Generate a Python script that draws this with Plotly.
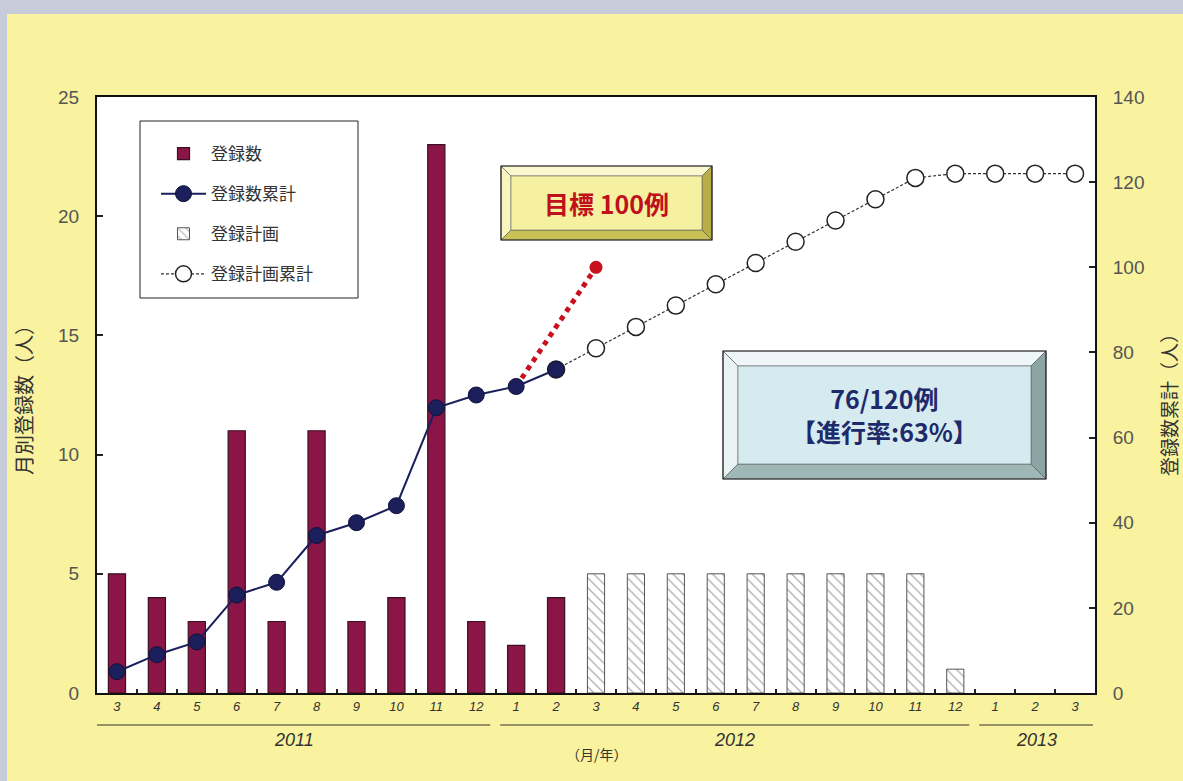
import plotly.graph_objects as go

# ---------------- data ----------------
categories = ["2011/3", "2011/4", "2011/5", "2011/6", "2011/7", "2011/8", "2011/9", "2011/10",
              "2011/11", "2011/12", "2012/1", "2012/2", "2012/3", "2012/4", "2012/5", "2012/6",
              "2012/7", "2012/8", "2012/9", "2012/10", "2012/11", "2012/12", "2013/1", "2013/2", "2013/3"]
month_labels = ["3", "4", "5", "6", "7", "8", "9", "10", "11", "12", "1", "2", "3", "4", "5", "6",
                "7", "8", "9", "10", "11", "12", "1", "2", "3"]

actual_months = categories[0:12]
actual_monthly = [5, 4, 3, 11, 3, 11, 3, 4, 23, 3, 2, 4]
actual_cumulative = [5, 9, 12, 23, 26, 37, 40, 44, 67, 70, 72, 76]

plan_months = categories[12:22]
plan_monthly = [5, 5, 5, 5, 5, 5, 5, 5, 5, 1]

plan_cum_months = categories[11:25]
plan_cumulative = [76, 81, 86, 91, 96, 101, 106, 111, 116, 121, 122, 122, 122, 122]

target_months = ["2012/1", "2012/3"]
target_values = [72, 100]

years = ["2011", "2012", "2013"]
year_spans = [(-0.5, 9.35), (9.6, 21.35), (21.6, 24.45)]

# ---------------- layout geometry (pixels) ----------------
W, H = 1183, 781
L, R, T, B = 97, 88, 97, 88
PW, PH = W - L - R, H - T - B


def px(x):
    return (x - L) / PW


def py(y):
    return (H - B - y) / PH


FONT = "Noto Sans CJK JP"
NUMFONT = "Liberation Sans"
GRAY = "#555555"

fig = go.Figure()

fig.add_trace(go.Bar(
    x=actual_months, y=actual_monthly, name="登録数", width=0.43,
    marker=dict(color="#8C1548", line=dict(color="#3A1022", width=1.2)),
    legendgroup="a", legendrank=1, yaxis="y"))

fig.add_trace(go.Bar(
    x=plan_months, y=plan_monthly, name="登録計画", width=0.43,
    marker=dict(color="white", line=dict(color="#555555", width=1),
                pattern=dict(shape="\\", fgcolor="#666666", bgcolor="white", size=7, solidity=0.2)),
    legendgroup="c", legendrank=3, yaxis="y"))

fig.add_trace(go.Scatter(
    x=plan_cum_months, y=plan_cumulative, name="登録計画累計", mode="lines+markers",
    line=dict(color="#333333", width=1.2, dash="3px,2px"),
    marker=dict(size=17, color="white", line=dict(color="#222222", width=1.5)),
    legendgroup="d", legendrank=4, yaxis="y2"))

fig.add_trace(go.Scatter(
    x=target_months, y=target_values, mode="lines", showlegend=False,
    line=dict(color="#C8101E", width=5, dash="dot"), yaxis="y2"))

fig.add_trace(go.Scatter(
    x=target_months[1:], y=target_values[1:], mode="markers", showlegend=False,
    marker=dict(size=13, color="#C8101E", opacity=1, line=dict(width=0)), yaxis="y2"))

fig.add_trace(go.Scatter(
    x=actual_months, y=actual_cumulative, name="登録数累計", mode="lines+markers",
    line=dict(color="#1B1F5C", width=2),
    marker=dict(size=16, color="#1B1F5C", line=dict(color="#10123A", width=1)),
    legendgroup="b", legendrank=2, yaxis="y2"))

shapes = []
annotations = []

# scanned bluish border at top/left
shapes.append(dict(type="rect", xref="paper", yref="paper", x0=px(0), x1=px(W), y0=py(14), y1=py(0),
                   fillcolor="#C7CCDA", line=dict(width=0), layer="below"))
shapes.append(dict(type="rect", xref="paper", yref="paper", x0=px(0), x1=px(7), y0=py(H), y1=py(0),
                   fillcolor="#C7CCDA", line=dict(width=0), layer="below"))

# legend box
shapes.append(dict(type="rect", xref="paper", yref="paper", x0=px(140), x1=px(358), y0=py(298), y1=py(121),
                   fillcolor="white", line=dict(color="#222222", width=1), layer="below"))


def bevel_box(x0, y0, x1, y1, i, face, top, left, bottom, right):
    def path(pts):
        return "M " + " L ".join(f"{px(a):.5f},{py(b):.5f}" for a, b in pts) + " Z"
    out = []
    out.append(dict(type="path", xref="paper", yref="paper",
                    path=path([(x0, y0), (x1, y0), (x1 - i, y0 + i), (x0 + i, y0 + i)]),
                    fillcolor=top, line=dict(color="#555555", width=0.6)))
    out.append(dict(type="path", xref="paper", yref="paper",
                    path=path([(x0, y0), (x0 + i, y0 + i), (x0 + i, y1 - i), (x0, y1)]),
                    fillcolor=left, line=dict(color="#555555", width=0.6)))
    out.append(dict(type="path", xref="paper", yref="paper",
                    path=path([(x0, y1), (x0 + i, y1 - i), (x1 - i, y1 - i), (x1, y1)]),
                    fillcolor=bottom, line=dict(color="#555555", width=0.6)))
    out.append(dict(type="path", xref="paper", yref="paper",
                    path=path([(x1, y0), (x1, y1), (x1 - i, y1 - i), (x1 - i, y0 + i)]),
                    fillcolor=right, line=dict(color="#555555", width=0.6)))
    out.append(dict(type="rect", xref="paper", yref="paper", x0=px(x0 + i), x1=px(x1 - i),
                    y0=py(y1 - i), y1=py(y0 + i), fillcolor=face, line=dict(color="#666666", width=0.6)))
    out.append(dict(type="rect", xref="paper", yref="paper", x0=px(x0), x1=px(x1),
                    y0=py(y1), y1=py(y0), fillcolor="rgba(0,0,0,0)", line=dict(color="#222222", width=1.2)))
    return out


shapes += bevel_box(501, 166, 712, 240, 10, "#F6F1A0", "#FBF8CF", "#F9F5BE", "#C9C058", "#B7AE48")
shapes += bevel_box(723, 351, 1046, 479, 15, "#D6EBEF", "#EEF6F7", "#E9F3F4", "#9FB7B6", "#8CA5A4")


def ann(x, y, text, font, **kw):
    d = dict(xref="paper", yref="paper", x=x, y=y, text=text, showarrow=False, font=font,
             xanchor="center", yanchor="middle")
    d.update(kw)
    return d


annotations.append(ann(px(606), py(203), "<b>目標 100例</b>", dict(family=FONT, size=25, color="#C0101C")))
annotations.append(ann(px(884), py(414), "<b>76/120例</b><br><b>【進行率:63%】</b>",
                       dict(family=FONT, size=25, color="#1D2A6B")))

# year lines and labels
for yr, (a, b) in zip(years, year_spans):
    shapes.append(dict(type="line", xref="x", yref="paper", x0=a, x1=b, y0=py(725), y1=py(725),
                       line=dict(color="#333333", width=1.2)))
    annotations.append(ann((a + b) / 2, py(740), yr,
                           dict(family=NUMFONT, size=18, color="#333333", style="italic"), xref="x"))

annotations.append(ann(px(597), py(754), "（月/年）", dict(family=FONT, size=14, color="#333333")))

# right axis title
annotations.append(ann(px(1168), py(400), "登録数累計（人）", dict(family=FONT, size=19, color="#333333"),
                       textangle=-90))

fig.update_layout(
    width=W, height=H,
    margin=dict(l=L, r=R, t=T, b=B, autoexpand=False),
    paper_bgcolor="#F9F29E",
    plot_bgcolor="white",
    barmode="overlay",
    showlegend=True,
    legend=dict(x=px(156), y=py(136), xanchor="left", yanchor="top", bgcolor="rgba(0,0,0,0)",
                font=dict(family=FONT, size=17, color="#333333"), tracegroupgap=15, itemwidth=45,
                traceorder="grouped"),
    xaxis=dict(type="category", categoryorder="array", categoryarray=categories,
               tickvals=categories, ticktext=month_labels, tickson="boundaries",
               ticks="inside", ticklen=4, tickcolor="#222222", tickwidth=1.5,
               showline=True, linecolor="#111111", linewidth=2, mirror=True,
               showgrid=False, range=[-0.5, 24.5], automargin=False,
               tickfont=dict(family=NUMFONT, size=13, color="#333333", style="italic")),
    yaxis=dict(range=[0, 25], tickvals=[0, 5, 10, 15, 20, 25], ticks="inside", ticklen=6,
               tickcolor="#222222", tickwidth=1.5, showline=True, linecolor="#111111", linewidth=2,
               showgrid=False, zeroline=False, automargin=False, ticklabelstandoff=12,
               tickfont=dict(family=NUMFONT, size=19, color=GRAY),
               title=dict(text="月別登録数（人）", font=dict(family=FONT, size=20, color="#333333"),
                          standoff=20)),
    yaxis2=dict(range=[0, 140], tickvals=[0, 20, 40, 60, 80, 100, 120, 140], overlaying="y", side="right",
                ticks="inside", ticklen=6, tickcolor="#222222", tickwidth=1.5, showline=True,
                linecolor="#111111", linewidth=2, showgrid=False, zeroline=False, automargin=False,
                ticklabelstandoff=12, tickfont=dict(family=NUMFONT, size=19, color=GRAY)),
    shapes=shapes,
    annotations=annotations,
)

fig.write_html("out.html")
